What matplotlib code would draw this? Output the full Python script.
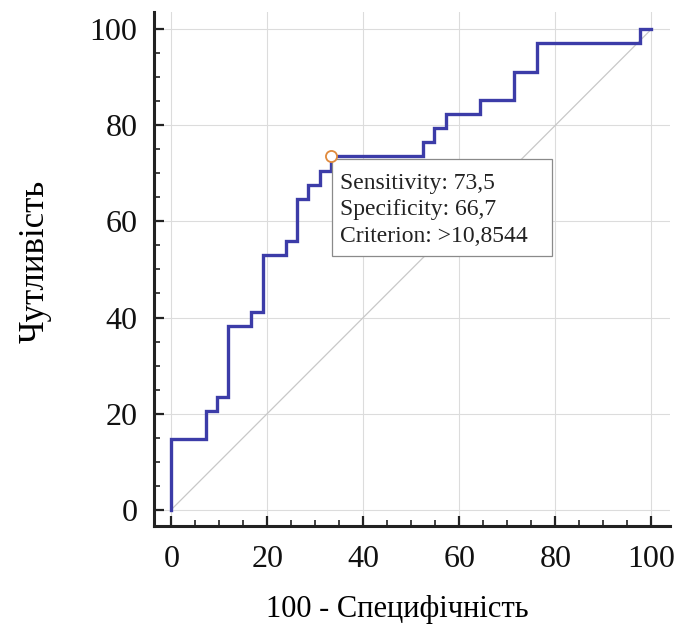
import numpy as np
import matplotlib
matplotlib.use('Agg')
import matplotlib.pyplot as plt
from matplotlib.ticker import MultipleLocator
from matplotlib.patches import Rectangle

# ROC-крива: 100 - специфічність (x) та чутливість (y), кроки
fpr = [0, 0, 7.14, 7.14, 9.52, 9.52, 11.90, 11.90, 16.67, 16.67, 19.05, 19.05,
       23.81, 23.81, 26.19, 26.19, 28.57, 28.57, 30.95, 30.95, 33.33, 33.33,
       52.38, 52.38, 54.76, 54.76, 57.14, 57.14, 64.29, 64.29, 71.43, 71.43,
       76.19, 76.19, 97.62, 97.62, 100]
tpr = [0, 14.71, 14.71, 20.59, 20.59, 23.53, 23.53, 38.24, 38.24, 41.18, 41.18, 52.94,
       52.94, 55.88, 55.88, 64.71, 64.71, 67.65, 67.65, 70.59, 70.59, 73.53,
       73.53, 76.47, 76.47, 79.41, 79.41, 82.35, 82.35, 85.29, 85.29, 91.18,
       91.18, 97.06, 97.06, 100, 100]

opt_x = 33.33
opt_y = 73.53
info_lines = ['Sensitivity: 73,5', 'Specificity: 66,7', 'Criterion: >10,8544']

plt.rcParams['font.family'] = ['Liberation Serif', 'DejaVu Serif']

fig = plt.figure(figsize=(6.81, 6.32), dpi=100)
ax = fig.add_axes([154 / 681, 1 - 526 / 632, (670 - 154) / 681, (526 - 12) / 632])

ax.plot([0, 100], [0, 100], color='#c8c8c8', lw=0.9, zorder=2)
ax.plot(fpr, tpr, color='#3c3ca8', lw=2.4, zorder=3, solid_joinstyle='miter')
ax.plot(opt_x, opt_y, 'o', ms=8, mfc='white', mec='#e08a3c', mew=1.3, zorder=6)

# рамка підказки біля оптимальної точки
ax.add_patch(Rectangle((opt_x + 0.1, opt_y - 0.6 - 20.2), 45.8, 20.2, fc='white',
                       ec='#8a8a8a', lw=0.9, zorder=4))
ax.text(opt_x + 1.9, opt_y - 3.4, '\n'.join(info_lines), fontsize=17, color='#222222',
        va='top', ha='left', linespacing=1.35, zorder=5)

ax.set_xlim(-3.6, 103.9)
ax.set_ylim(-3.4, 103.6)
ax.xaxis.set_major_locator(MultipleLocator(20))
ax.yaxis.set_major_locator(MultipleLocator(20))
ax.xaxis.set_minor_locator(MultipleLocator(5))
ax.yaxis.set_minor_locator(MultipleLocator(5))
ax.grid(True, which='major', color='#dcdcdc', lw=0.8, zorder=1)
ax.set_axisbelow(True)

for s in ['top', 'right']:
    ax.spines[s].set_visible(False)
for s in ['left', 'bottom']:
    ax.spines[s].set_linewidth(2.2)
    ax.spines[s].set_color('#222222')

ax.tick_params(which='major', direction='in', length=7, width=1.6, labelsize=23,
               color='#222222', labelcolor='#111111')
ax.tick_params(axis='x', which='major', pad=14)
ax.tick_params(axis='y', which='major', pad=12)
ax.tick_params(which='minor', direction='in', length=4, width=1.2, color='#222222')

ax.set_xlabel('100 - Специфічність', fontsize=22)
ax.set_ylabel('Чутливість', fontsize=25)
ax.xaxis.set_label_coords(0.471, -0.135)
ax.yaxis.set_label_coords(-0.199, 0.514)

fig.savefig('out.png', dpi=100)
